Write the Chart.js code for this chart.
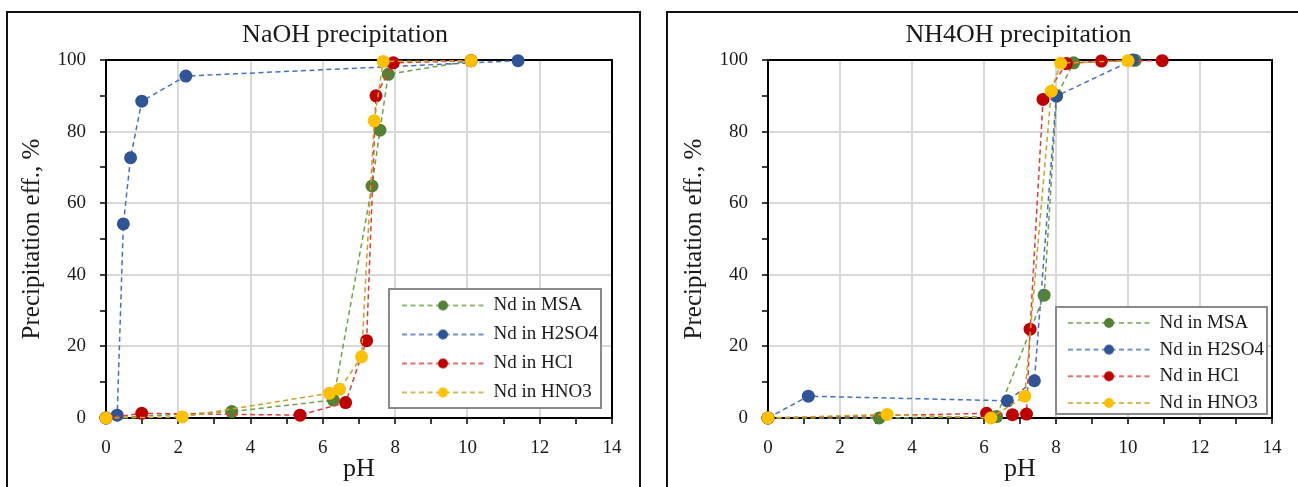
<!DOCTYPE html>
<html>
<head>
<meta charset="utf-8">
<script src="https://cdn.jsdelivr.net/npm/chart.js@4.4.1/dist/chart.umd.min.js"></script>
<style>
  body { margin: 0; background: #fff; width: 1298px; height: 487px; overflow: hidden; position: relative; }
  .panel { position: absolute; top: 11px; height: 500px; border: 2px solid #111; box-sizing: border-box; }
  #panelA { left: 6px; width: 635px; }
  #panelB { left: 666px; width: 700px; }
  canvas { position: absolute; top: 0; }
  #naohChart { left: 0; }
  #nh4ohChart { left: 650px; }
</style>
</head>
<body>
<div class="panel" id="panelA"></div>
<div class="panel" id="panelB"></div>
<canvas id="naohChart" width="650" height="487"></canvas>
<canvas id="nh4ohChart" width="648" height="487"></canvas>
<script>
const seriesNames = ["Nd in MSA", "Nd in H2SO4", "Nd in HCl", "Nd in HNO3"];
const markerColors = ["#548235", "#2F5597", "#C00000", "#FFC000"];
const lineColors = ["#6FA34A", "#4472C4", "#E23B3B", "#C9A227"];

// NaOH precipitation
const naohMsaPh = [0, 3.48, 6.29, 7.36, 7.58, 7.81, 10.1];
const naohMsaEff = [0, 1.8, 5.0, 64.8, 80.4, 96.0, 99.8];
const naohH2so4Ph = [0, 0.31, 0.48, 0.68, 0.99, 2.21, 11.4];
const naohH2so4Eff = [0, 0.8, 54.2, 72.7, 88.5, 95.5, 99.8];
const naohHclPh = [0, 0.99, 5.37, 6.63, 7.21, 7.47, 7.95, 10.1];
const naohHclEff = [0, 1.3, 0.8, 4.3, 21.6, 90.0, 99.2, 99.8];
const naohHno3Ph = [0, 2.11, 6.18, 6.46, 7.07, 7.42, 7.67, 10.1];
const naohHno3Eff = [0, 0.3, 6.9, 8.0, 17.1, 83.0, 99.6, 99.8];

// NH4OH precipitation
const nh4ohMsaPh = [0, 3.09, 6.35, 7.67, 8.02, 8.49, 10.2];
const nh4ohMsaEff = [0, 0, 0.4, 34.3, 90.0, 99.2, 99.9];
const nh4ohH2so4Ph = [0, 1.12, 6.65, 7.40, 8.01, 10.13];
const nh4ohH2so4Eff = [0, 6.1, 4.8, 10.4, 89.9, 100];
const nh4ohHclPh = [0, 6.07, 6.79, 7.18, 7.28, 7.64, 8.29, 9.26, 10.95];
const nh4ohHclEff = [0, 1.3, 0.9, 1.1, 24.8, 89.0, 99.0, 99.7, 99.8];
const nh4ohHno3Ph = [0, 3.31, 6.19, 7.13, 7.87, 8.13, 10.0];
const nh4ohHno3Eff = [0, 1.0, 0, 6.1, 91.3, 99.1, 99.8];

const textColor = "#1a1a1a";
const gridColor = "#d9d9d9";
const legendFontSize = 19;

Chart.defaults.font.family = "'Liberation Serif', 'Times New Roman', serif";
Chart.defaults.color = textColor;

const legendSample = (i) => {
  const c = document.createElement("canvas");
  c.width = 82;
  c.height = 14;
  const g = c.getContext("2d");
  g.strokeStyle = lineColors[i];
  g.lineWidth = 1.5;
  g.setLineDash([5, 3.5]);
  g.beginPath();
  g.moveTo(0, 7);
  g.lineTo(82, 7);
  g.stroke();
  g.setLineDash([]);
  g.fillStyle = markerColors[i];
  g.beginPath();
  g.arc(41, 7, 5, 0, Math.PI * 2);
  g.fill();
  return c;
};

const buildDatasets = (phLists, effLists) => {
  return phLists.map((ph, i) => {
    return {
      label: seriesNames[i],
      data: ph.map((x, j) => ({ x: x, y: effLists[i][j] })),
      showLine: true,
      borderColor: lineColors[i],
      borderWidth: 1.5,
      borderDash: [5, 3.5],
      backgroundColor: markerColors[i],
      pointBackgroundColor: markerColors[i],
      pointBorderColor: markerColors[i],
      pointBorderWidth: 0,
      pointRadius: 6.5,
      pointHoverRadius: 6.5,
      clip: false,
      order: phLists.length - i,
    };
  });
};

// frame round the plot, legend box, title nudge
const panelDecor = {
  id: "panelDecor",
  afterLayout(chart, args, opts) {
    const t = chart.titleBlock;
    if (t) {
      t.left += opts.titleShift;
      t.right += opts.titleShift;
    }
    const lg = chart.legend;
    const ca = chart.chartArea;
    const f = opts.legendBox;
    const pad = lg.options.labels.padding;
    const boxLeft = ca.right - f.right - f.width;
    const boxTop = ca.bottom - f.bottom - f.height;
    lg.left = boxLeft + f.sampleX - pad;
    lg.top = boxTop + f.firstRow - legendFontSize / 2 - pad;
    lg.right = boxLeft + f.width + 30;
    lg.bottom = ca.bottom + 100;
  },
  beforeDatasetsDraw(chart, args, opts) {
    const { ctx, chartArea: ca } = chart;
    const f = opts.legendBox;
    ctx.save();
    ctx.strokeStyle = "#000";
    ctx.lineWidth = 2;
    ctx.beginPath();
    ctx.moveTo(ca.left, ca.top);
    ctx.lineTo(ca.right, ca.top);
    ctx.lineTo(ca.right, ca.bottom);
    ctx.stroke();
    const x = ca.right - f.right - f.width;
    const y = ca.bottom - f.bottom - f.height;
    ctx.fillStyle = "#fff";
    ctx.fillRect(x, y, f.width, f.height);
    ctx.strokeStyle = "#8a8a8a";
    ctx.lineWidth = 2;
    ctx.strokeRect(x, y, f.width, f.height);
    ctx.restore();
    chart.legend.draw();
  },
};

const makeChart = (id, title, datasets, geo) => {
  const ctx = document.getElementById(id).getContext("2d");
  return new Chart(ctx, {
    type: "scatter",
    data: { datasets: datasets },
    options: {
      responsive: false,
      animation: false,
      devicePixelRatio: 1,
      layout: { padding: { left: geo.padLeft, right: geo.padRight, top: 0, bottom: 0 } },
      plugins: {
        title: {
          display: true,
          text: title,
          fullSize: false,
          color: textColor,
          font: { size: 26, weight: "normal" },
          padding: { top: 20, bottom: 8.8 },
        },
        legend: {
          position: "chartArea",
          align: "start",
          labels: {
            usePointStyle: true,
            pointStyleWidth: 82,
            padding: geo.legendPadding,
            color: textColor,
            font: { size: legendFontSize },
            generateLabels: (chart) =>
              chart.data.datasets.map((ds, i) => ({
                text: ds.label,
                pointStyle: legendSample(i),
                fillStyle: "rgba(0,0,0,0)",
                strokeStyle: "rgba(0,0,0,0)",
                lineWidth: 0,
                fontColor: textColor,
                hidden: false,
                datasetIndex: i,
              })),
          },
        },
        tooltip: { enabled: false },
        panelDecor: { titleShift: geo.titleShift, legendBox: geo.legendBox },
      },
      scales: {
        x: {
          type: "linear",
          min: 0,
          max: 14,
          afterFit: (s) => {
            s.height = 69;
          },
          ticks: {
            stepSize: 1,
            autoSkip: false,
            maxRotation: 0,
            padding: 13,
            color: textColor,
            font: { size: 19 },
            callback: (v) => (v % 2 === 0 ? v : ""),
          },
          grid: {
            color: (c) => (c.tick && c.tick.value % 2 === 0 ? gridColor : "rgba(0,0,0,0)"),
            lineWidth: 2,
            tickLength: 6,
            tickColor: "#000",
            tickWidth: 1.5,
          },
          border: { color: "#000", width: 2 },
          title: {
            display: true,
            text: "pH",
            color: textColor,
            font: { size: 26 },
            padding: { top: 0, bottom: 2 },
          },
        },
        y: {
          type: "linear",
          min: 0,
          max: 100,
          afterFit: (s) => {
            s.width = 96;
          },
          ticks: {
            stepSize: 10,
            autoSkip: false,
            padding: 14,
            color: textColor,
            font: { size: 19 },
            callback: (v) => (v % 20 === 0 ? v : ""),
          },
          grid: {
            color: (c) => (c.tick && c.tick.value % 20 === 0 ? gridColor : "rgba(0,0,0,0)"),
            lineWidth: 2,
            tickLength: 6,
            tickColor: "#000",
            tickWidth: 1.5,
          },
          border: { color: "#000", width: 2 },
          title: {
            display: true,
            text: "Precipitation eff., %",
            color: textColor,
            font: { size: 25 },
            padding: { top: 7, bottom: 0 },
          },
        },
      },
    },
    plugins: [panelDecor],
  });
};

makeChart(
  "naohChart",
  "NaOH precipitation",
  buildDatasets(
    [naohMsaPh, naohH2so4Ph, naohHclPh, naohHno3Ph],
    [naohMsaEff, naohH2so4Eff, naohHclEff, naohHno3Eff]
  ),
  {
    padLeft: 10,
    padRight: 38,
    titleShift: -14,
    legendPadding: 10,
    legendBox: { right: 11, bottom: 10, width: 212, height: 119, sampleX: 13, firstRow: 16.5 },
  }
);

makeChart(
  "nh4ohChart",
  "NH4OH precipitation",
  buildDatasets(
    [nh4ohMsaPh, nh4ohH2so4Ph, nh4ohHclPh, nh4ohHno3Ph],
    [nh4ohMsaEff, nh4ohH2so4Eff, nh4ohHclEff, nh4ohHno3Eff]
  ),
  {
    padLeft: 22,
    padRight: 26,
    titleShift: -1.5,
    legendPadding: 7.7,
    legendBox: { right: 5, bottom: 4, width: 211, height: 107, sampleX: 12, firstRow: 15.9 },
  }
);
</script>
</body>
</html>
